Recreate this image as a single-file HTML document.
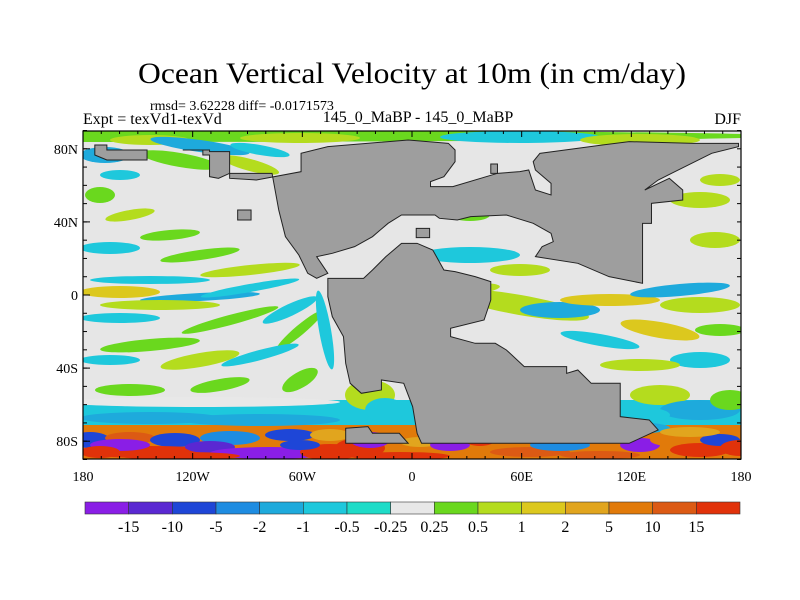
<!DOCTYPE html>
<html><head><meta charset="utf-8"><style>
body{margin:0;background:#fff;width:800px;height:600px;overflow:hidden}
svg{display:block;font-family:"Liberation Serif",serif}
</style></head><body>
<svg id="fig" width="800" height="600" viewBox="0 0 800 600">
<text x="412" y="83" font-size="30" text-anchor="middle" textLength="548" lengthAdjust="spacingAndGlyphs">Ocean Vertical Velocity at 10m (in cm/day)</text>
<text x="150" y="110" font-size="14">rmsd= 3.62228 diff= -0.0171573</text>
<text x="83" y="124" font-size="16">Expt = texVd1-texVd</text>
<text x="418" y="122" font-size="16" text-anchor="middle">145_0_MaBP - 145_0_MaBP</text>
<text x="741" y="124" font-size="16" text-anchor="end">DJF</text>
<defs><clipPath id="mc"><rect x="83" y="131" width="658" height="328"/></clipPath></defs>
<g clip-path="url(#mc)">
<rect x="83" y="131" width="658" height="328" fill="#e6e6e6"/>
<rect x="83" y="400" width="658" height="30" fill="#1ec8dc"/>
<rect x="83" y="425" width="658" height="34" fill="#e17a0a"/>
<g id="blobs"></g>
<g transform="translate(60,90) scale(0.4464,0.3333)" fill="#9e9e9e" stroke="#222" stroke-width="1">
<polygon vector-effect="non-scaling-stroke" points="275,180 320,180 320,195 335,195 335,260 355,265 380,250 475,250 490,360 505,440 535,495 555,550 575,565 600,550 575,500 610,490 660,470 700,440 735,400 765,375 840,375 850,385 890,390 920,380 1000,375 1060,400 1100,430 1105,455 1080,470 1065,500 1160,520 1230,560 1305,580 1305,400 1325,400 1325,340 1395,330 1395,300 1365,265 1310,300 1340,270 1370,250 1460,190 1520,170 1520,160 1420,160 1275,155 1215,165 1075,190 1060,215 1065,240 1100,280 1100,315 1065,300 1050,240 1030,245 980,250 880,290 830,290 830,275 860,260 885,215 885,180 870,160 780,150 600,170 540,190 540,245 440,270 380,265 380,185 335,185 335,180"/>
<polygon vector-effect="non-scaling-stroke" points="600,565 680,565 700,540 730,500 765,460 800,460 835,480 860,540 885,545 930,560 965,575 965,630 950,690 875,715 875,740 930,760 975,760 1000,780 1040,830 1135,830 1135,850 1160,840 1190,880 1255,880 1255,980 1320,990 1340,1020 1275,1060 810,1060 800,1030 790,950 770,880 720,870 720,900 675,910 650,880 640,820 635,740 610,680 600,620"/>
<polygon vector-effect="non-scaling-stroke" points="640,1015 690,1010 700,1030 760,1030 780,1060 640,1060"/>
<polygon vector-effect="non-scaling-stroke" points="78,165 105,165 105,180 195,180 195,210 105,210 78,195"/>
<rect vector-effect="non-scaling-stroke" x="398" y="360" width="30" height="30"/>
<rect vector-effect="non-scaling-stroke" x="798" y="415" width="30" height="28"/>
<rect vector-effect="non-scaling-stroke" x="965" y="222" width="15" height="28"/>
</g>
</g>
<rect x="83" y="131" width="658" height="328" fill="none" stroke="#000" stroke-width="1.2"/>
<g id="axes" font-size="14"></g>
<g id="cbar" font-size="16"></g>
<script>
var levels=["-15","-10","-5","-2","-1","-0.5","-0.25","0.25","0.5","1","2","5","10","15"];
var colors=["#8a1ee6","#5a28d2","#1e46d7","#1e8ce1","#1eaadc","#1ec8dc","#1edcc8","#e8e8e8","#6ad81e","#b4dc1e","#dcc81e","#e1a51e","#e17a0a","#dc5a14","#e1320a"];
var lonTicks=["180","120W","60W","0","60E","120E","180"];
var lonVals=[-180,-120,-60,0,60,120,180];
var latTicks=["80N","40N","0","40S","80S"];
var latVals=[80,40,0,-40,-80];
var blobs=[
[83,136,700,6,0,8],[150,140,40,5,0,9],[300,138,60,5,0,9],[520,137,80,6,0,5],[640,140,60,6,0,9],[200,146,50,6,8,4],[260,150,30,5,10,5],
[105,155,25,8,0,4],[180,160,40,7,10,8],[250,165,30,6,15,9],[120,175,20,5,0,5],[100,195,15,8,0,8],[130,215,25,5,-10,9],[170,235,30,5,-5,8],
[110,248,30,6,0,5],[200,255,40,5,-8,8],[250,270,50,5,-6,9],[150,280,60,4,0,5],[120,292,40,6,0,10],[200,297,60,4,-3,4],[250,288,50,4,-10,5],
[160,305,60,5,0,9],[120,318,40,5,0,5],[230,320,50,5,-15,8],[290,310,30,6,-25,5],[300,330,30,5,-40,8],[150,345,50,6,-5,8],[200,360,40,7,-10,9],
[110,360,30,5,0,5],[260,355,40,5,-15,5],[130,390,35,6,0,8],[220,385,30,6,-10,8],[300,380,20,8,-30,8],[325,330,6,40,-10,5],
[200,402,140,5,0,7],[150,418,70,6,0,4],[260,420,80,6,0,4],
[470,255,50,8,0,5],[520,270,30,6,0,9],[460,290,40,6,-5,9],[450,305,30,5,0,5],[520,305,70,10,10,9],[560,310,40,8,0,4],[610,300,50,6,0,10],
[680,290,50,6,-5,4],[700,305,40,8,0,9],[660,330,40,8,10,10],[720,330,25,6,0,8],[600,340,40,6,10,5],[700,360,30,8,0,5],[640,365,40,6,0,9],
[715,240,25,8,0,9],[700,200,30,8,0,9],[720,180,20,6,0,9],[470,215,20,6,0,8],[495,185,20,5,0,9],
[660,395,30,10,0,9],[700,410,40,10,0,4],[640,415,30,8,0,5],[730,400,20,10,0,8],[520,410,60,12,0,7],[500,395,30,6,0,8],
[370,395,25,15,0,9],[385,410,20,12,0,5],[450,425,30,6,0,4],[630,428,40,6,0,4],
[90,440,20,8,0,2],[130,438,25,6,0,13],[175,440,25,7,0,2],[230,438,30,7,0,3],[290,435,25,6,0,2],[330,435,20,6,0,11],
[150,452,70,6,0,14],[120,445,30,6,0,0],[210,447,25,6,0,1],[270,453,60,6,0,0],[330,452,30,8,0,14],[360,448,25,10,0,14],[370,440,20,8,0,0],
[300,445,20,5,0,2],[100,452,20,6,0,14],[420,442,20,5,0,11],[450,445,20,6,0,0],[480,440,15,6,0,14],[530,452,40,5,0,13],[560,445,30,6,0,3],
[640,445,20,7,0,0],[670,440,20,6,0,12],[700,450,30,7,0,14],[720,440,20,6,0,2],[740,448,20,8,0,14],[690,432,30,5,0,11],[600,455,40,4,0,13],[180,456,60,4,0,14],[400,456,50,4,0,14]
];
var NS="http://www.w3.org/2000/svg";
function xs(lon){return 83+(lon+180)/360*658;}
function ys(lat){return 295-lat*1.8275;}
var bg=document.getElementById('blobs');
blobs.forEach(function(b,i){
 var e=document.createElementNS(NS,'ellipse');
 e.setAttribute('cx',b[0]);e.setAttribute('cy',b[1]);e.setAttribute('rx',b[2]);e.setAttribute('ry',b[3]);
 e.setAttribute('transform','rotate('+b[4]+' '+b[0]+' '+b[1]+')');
 e.setAttribute('fill',colors[b[5]]);
 
 
 bg.appendChild(e);
});
var ax=document.getElementById('axes');
for(var lon=-180;lon<=180;lon+=10){
 var big=lon%60===0;
 [[459,big?453:456],[131,big?137:134]].forEach(function(p){
  var m=document.createElementNS(NS,'line');
  m.setAttribute('x1',xs(lon));m.setAttribute('x2',xs(lon));m.setAttribute('y1',p[0]);m.setAttribute('y2',p[1]);m.setAttribute('stroke','#000');
  
  
  ax.appendChild(m);
 });
}
for(var lat=-90;lat<=90;lat+=10){
 [[83,87],[741,737]].forEach(function(p){
  var m=document.createElementNS(NS,'line');
  m.setAttribute('x1',p[0]);m.setAttribute('x2',p[1]);m.setAttribute('y1',ys(lat));m.setAttribute('y2',ys(lat));m.setAttribute('stroke','#000');
  
  
  ax.appendChild(m);
 });
}
lonVals.forEach(function(v,i){
 var x=xs(v);
 var t=document.createElementNS(NS,'text');
 t.setAttribute('x',x);t.setAttribute('y',481);t.setAttribute('text-anchor','middle');t.textContent=lonTicks[i];
 
 
 ax.appendChild(t);
});
latVals.forEach(function(v,i){
 var y=ys(v);
 var t=document.createElementNS(NS,'text');
 t.setAttribute('x',78);t.setAttribute('y',y+5);t.setAttribute('text-anchor','end');t.textContent=latTicks[i];
 
 
 ax.appendChild(t);
 var l=document.createElementNS(NS,'line');
 l.setAttribute('x1',83);l.setAttribute('x2',90);l.setAttribute('y1',y);l.setAttribute('y2',y);l.setAttribute('stroke','#000');
 
 
 ax.appendChild(l);
});
var cb=document.getElementById('cbar');
var x0=85,x1=740,w=(x1-x0)/colors.length;
colors.forEach(function(c,i){
 var r=document.createElementNS(NS,'rect');
 r.setAttribute('x',x0+i*w);r.setAttribute('y',502);r.setAttribute('width',w);r.setAttribute('height',12);
 r.setAttribute('fill',c);r.setAttribute('stroke','#333');r.setAttribute('stroke-width','0.6');
 
 
 cb.appendChild(r);
});
levels.forEach(function(s,i){
 var t=document.createElementNS(NS,'text');
 t.setAttribute('x',x0+(i+1)*w);t.setAttribute('y',532);t.setAttribute('text-anchor','middle');t.textContent=s;
 
 
 cb.appendChild(t);
});
</script>
</svg>
</body></html>
